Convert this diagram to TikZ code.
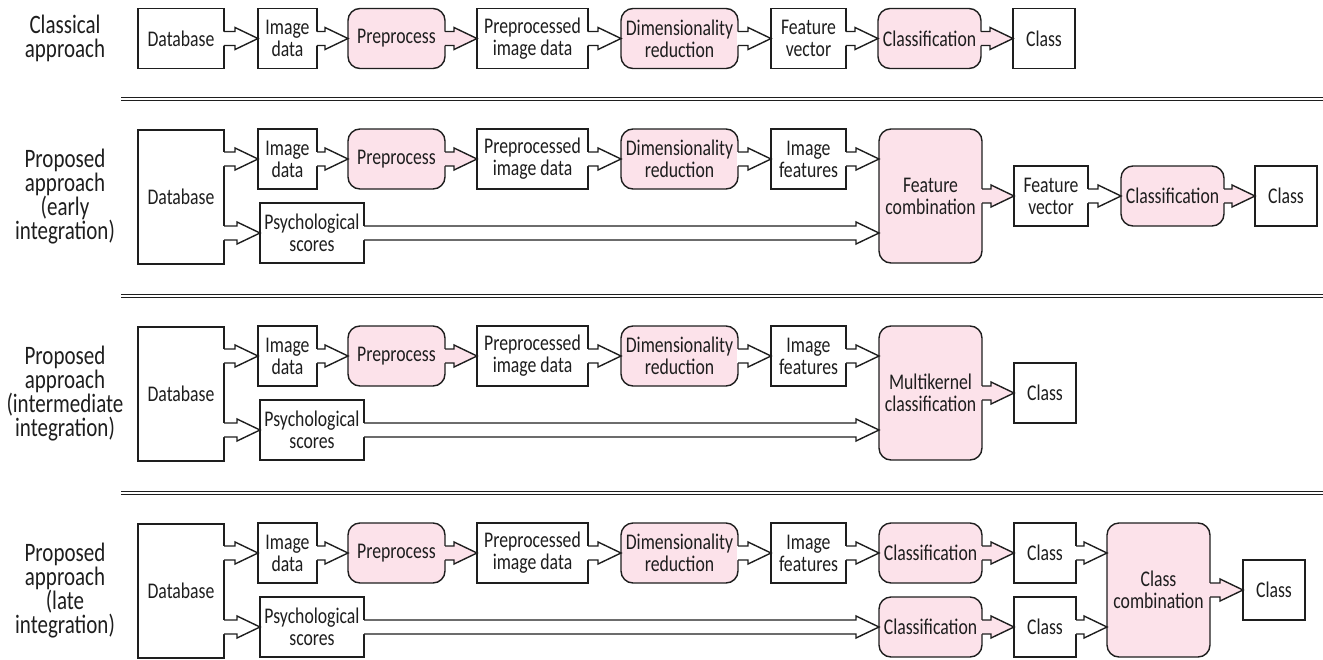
\documentclass[tikz,border=0pt]{standalone}
\usepackage{fontspec}
\setmainfont{Carlito}[FakeStretch=0.79]
\usetikzlibrary{calc}
\definecolor{procpink}{RGB}{252,226,234}
\definecolor{ink}{RGB}{30,30,30}
\newcommand{\fatarrow}[3][white]{%
  \fill[#1] let \p1=(#2), \p2=(#3) in (\x1-0.5pt,\y1+3.5pt) -- (\x2-11.5pt,\y1+3.5pt)
    -- (\x2-11.5pt,\y1+5.5pt) -- (\x2,\y1) -- (\x2-11.5pt,\y1-5.5pt)
    -- (\x2-11.5pt,\y1-3.5pt) -- (\x1-0.5pt,\y1-3.5pt) -- cycle;
  \draw[ink,line width=0.7pt,line join=miter] let \p1=(#2), \p2=(#3) in (\x1,\y1+3.5pt) -- (\x2-11.5pt,\y1+3.5pt)
    -- (\x2-11.5pt,\y1+5.5pt) -- (\x2,\y1) -- (\x2-11.5pt,\y1-5.5pt)
    -- (\x2-11.5pt,\y1-3.5pt) -- (\x1,\y1-3.5pt);
}
\begin{document}
\begin{tikzpicture}[x=0.5pt,y=-0.5pt,
  box/.style={draw=ink,fill=white,line width=0.7pt,outer sep=0pt,inner sep=1pt,
    minimum height=30pt,align=center,text=ink,font=\fontsize{11.2}{11}\selectfont},
  proc/.style={box,fill=procpink,rounded corners=6pt},
  tall/.style={minimum height=67pt},
  rowlabel/.style={align=center,text=ink,font=\fontsize{13.3}{12}\selectfont}]
\useasboundingbox (0,0) rectangle (1323,659);
\node[rowlabel] (lab1) at (65,38) {Classical\\approach};
\node[rowlabel] (lab2) at (65,197) {Proposed\\approach\\(early\\integration)};
\node[rowlabel] (lab3) at (65,394) {Proposed\\approach\\(intermediate\\integration)};
\node[rowlabel] (lab4) at (65,591) {Proposed\\approach\\(late\\integration)};
\draw[ink,double,double distance=1.2pt,line width=0.5pt] (121,99) -- (1323,99);
\draw[ink,double,double distance=1.2pt,line width=0.5pt] (121,296) -- (1323,296);
\draw[ink,double,double distance=1.2pt,line width=0.5pt] (121,493) -- (1323,493);
\node[box,minimum width=43pt] (db1) at (181,38.5) {Database};
\node[box,minimum width=29.5pt] (img1) at (287.5,38.5) {Image\\data};
\node[proc,minimum width=48.5pt] (pre1) at (396.5,38.5) {Preprocess};
\node[box,minimum width=55.5pt] (ppi1) at (532.5,38.5) {Preprocessed\\image data};
\node[proc,minimum width=58.5pt] (dim1) at (679.5,38.5) {Dimensionality\\reduction};
\node[box,minimum width=37.5pt] (fv1) at (808.5,38.5) {Feature\\vector};
\node[proc,minimum width=51.5pt] (cls1) at (929.5,38.5) {Classification};
\node[box,minimum width=31pt] (cl1) at (1044,38.5) {Class};
\fatarrow{db1.east}{img1.west}
\fatarrow{img1.east}{pre1.west}
\fatarrow[procpink]{pre1.east}{ppi1.west}
\fatarrow{ppi1.east}{dim1.west}
\fatarrow{dim1.east}{fv1.west}
\fatarrow{fv1.east}{cls1.west}
\fatarrow[procpink]{cls1.east}{cl1.west}
\foreach \r/\dy in {2/0,3/197,4/394} {
  \node[box,tall,minimum width=43pt] (db\r) at (181,197+\dy) {Database};
  \node[box,minimum width=29.5pt] (img\r) at (287.5,159+\dy) {Image\\data};
  \node[box,minimum width=52pt] (psy\r) at (312,233+\dy) {Psychological\\scores};
  \node[proc,minimum width=48.5pt] (pre\r) at (396.5,159+\dy) {Preprocess};
  \node[box,minimum width=55.5pt] (ppi\r) at (532.5,159+\dy) {Preprocessed\\image data};
  \node[proc,minimum width=58.5pt] (dim\r) at (679.5,159+\dy) {Dimensionality\\reduction};
  \node[box,minimum width=37.5pt] (feat\r) at (808.5,159+\dy) {Image\\features};
  \fatarrow{db\r.east |- img\r.west}{img\r.west}
  \fatarrow{db\r.east |- psy\r.west}{psy\r.west}
  \fatarrow{img\r.east}{pre\r.west}
  \fatarrow[procpink]{pre\r.east}{ppi\r.west}
  \fatarrow{ppi\r.east}{dim\r.west}
  \fatarrow{dim\r.east}{feat\r.west}
}
\node[proc,tall,minimum width=51.5pt] (fc) at (930.5,196) {Feature\\combination};
\node[box,minimum width=37pt] (fv2) at (1051,196) {Feature\\vector};
\node[proc,minimum width=51.5pt] (cls2) at (1172.5,196) {Classification};
\node[box,minimum width=31pt] (cl2) at (1286,196) {Class};
\fatarrow{feat2.east}{fc.west |- feat2.east}
\fatarrow{psy2.east}{fc.west |- psy2.east}
\fatarrow[procpink]{fc.east |- fv2.west}{fv2.west}
\fatarrow{fv2.east}{cls2.west}
\fatarrow[procpink]{cls2.east}{cl2.west}
\node[proc,tall,minimum width=51.5pt] (mk) at (930.5,393) {Multikernel\\classification};
\node[box,minimum width=31pt] (cl3) at (1045,393) {Class};
\fatarrow{feat3.east}{mk.west |- feat3.east}
\fatarrow{psy3.east}{mk.west |- psy3.east}
\fatarrow[procpink]{mk.east |- cl3.west}{cl3.west}
\node[proc,minimum width=51.5pt] (clsa) at (930.5,553) {Classification};
\node[proc,minimum width=51.5pt] (clsb) at (930.5,627) {Classification};
\node[box,minimum width=31pt] (cla) at (1045,553) {Class};
\node[box,minimum width=31pt] (clb) at (1045,627) {Class};
\node[proc,tall,minimum width=51.5pt] (cc) at (1158.5,590) {Class\\combination};
\node[box,minimum width=31pt] (clf) at (1274,590) {Class};
\fatarrow{feat4.east}{clsa.west}
\fatarrow{psy4.east}{clsb.west}
\fatarrow[procpink]{clsa.east}{cla.west}
\fatarrow[procpink]{clsb.east}{clb.west}
\fatarrow{cla.east}{cc.west |- cla.east}
\fatarrow{clb.east}{cc.west |- clb.east}
\fatarrow[procpink]{cc.east |- clf.west}{clf.west}
\end{tikzpicture}
\end{document}
